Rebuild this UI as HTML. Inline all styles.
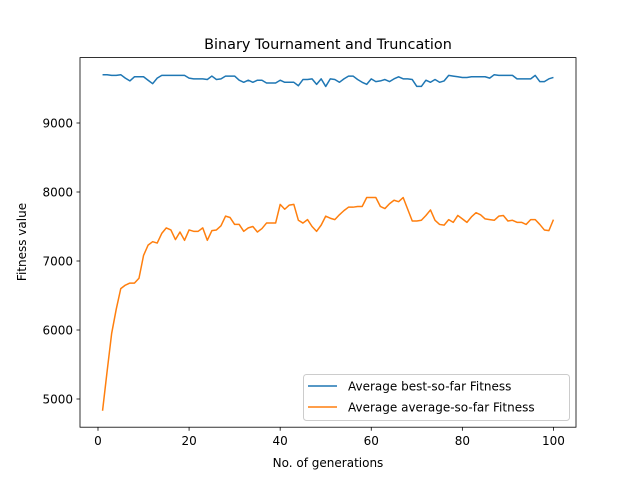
<!DOCTYPE html>
<html><head><meta charset="utf-8"><style>
body{margin:0;background:#fff}
svg{display:block;font-family:"DejaVu Sans","Liberation Sans",sans-serif}
</style></head><body>
<svg id="chart" width="640" height="480">
<rect width="640" height="480" fill="#fff"/>
<text x="328" y="49" font-size="14.4" text-anchor="middle">Binary Tournament and Truncation</text>
<text x="328" y="467" font-size="12" text-anchor="middle">No. of generations</text>
<text transform="translate(26,242) rotate(-90)" font-size="12" text-anchor="middle">Fitness value</text>
<g id="ticks"></g>
<g id="series"></g>
<rect x="80" y="57.6" width="496" height="369.6" fill="none" stroke="#000" stroke-width="0.8"/>
<g>
<rect x="303.5" y="374.5" width="266" height="46" rx="3" fill="#fff" fill-opacity="0.8" stroke="#ccc"/>
<line x1="308" y1="386" x2="337" y2="386" stroke="#1f77b4" stroke-width="1.5"/>
<text x="348" y="390.5" font-size="12">Average best-so-far Fitness</text>
<line x1="308" y1="407" x2="337" y2="407" stroke="#ff7f0e" stroke-width="1.5"/>
<text x="348" y="411.5" font-size="12">Average average-so-far Fitness</text>
</g>
</svg>
<script>
const xTicks=[0,20,40,60,80,100];
const yTicks=[5000,6000,7000,8000,9000];
const bestValues=[9700,9700,9690,9690,9700,9650,9610,9670,9670,9670,9620,9570,9650,9690,9690,9690,9690,9690,9690,9650,9640,9640,9640,9630,9680,9630,9640,9680,9680,9680,9620,9590,9620,9590,9620,9620,9580,9580,9580,9620,9590,9590,9590,9540,9630,9630,9640,9560,9640,9530,9640,9630,9590,9640,9680,9680,9630,9590,9560,9640,9600,9610,9630,9600,9640,9670,9640,9640,9630,9530,9530,9620,9590,9630,9590,9610,9690,9680,9670,9660,9660,9670,9670,9670,9670,9650,9700,9690,9690,9690,9690,9640,9640,9640,9640,9690,9600,9600,9640,9660];
const avgValues=[4830,5400,5950,6300,6600,6650,6680,6680,6750,7080,7230,7280,7260,7400,7480,7450,7310,7420,7300,7450,7430,7430,7480,7300,7440,7450,7510,7650,7630,7530,7530,7430,7480,7500,7420,7470,7550,7550,7550,7820,7750,7810,7820,7590,7550,7600,7500,7430,7520,7650,7620,7600,7670,7730,7780,7780,7790,7790,7920,7920,7920,7790,7760,7830,7880,7860,7920,7750,7580,7580,7590,7660,7740,7590,7530,7520,7600,7560,7660,7610,7560,7640,7700,7670,7610,7600,7590,7650,7660,7580,7590,7560,7560,7530,7600,7600,7530,7450,7440,7600];
const X=v=>80+(v+3.95)*496/108.9;
const Y=v=>123+(9000-v)*0.069;
const NS="http://www.w3.org/2000/svg";
const tg=document.getElementById('ticks');
function mk(tag,attrs,parent){const e=document.createElementNS(NS,tag);for(const k in attrs)e.setAttribute(k,attrs[k]);parent.appendChild(e);return e;}
xTicks.forEach(t=>{
  const l=mk('line',{x1:X(t),x2:X(t),y1:427.2,y2:430.7,stroke:'#000','stroke-width':0.8},tg);
  
  
  const s=mk('text',{x:X(t),y:445,'font-size':12,'text-anchor':'middle'},tg);
  s.textContent=t;
  
  
});
yTicks.forEach(t=>{
  const l=mk('line',{x1:76.5,x2:80,y1:Y(t),y2:Y(t),stroke:'#000','stroke-width':0.8},tg);
  
  
  const s=mk('text',{x:73,y:Y(t)+4.5,'font-size':12,'text-anchor':'end'},tg);
  s.textContent=t;
  
  
});
const sg=document.getElementById('series');
function line(vals,color,name){
  const p=mk('polyline',{points:vals.map((v,i)=>X(i+1).toFixed(2)+','+Y(v).toFixed(2)).join(' '),fill:'none',stroke:color,'stroke-width':1.5,'stroke-linejoin':'round'},sg);
  
  
}
line(bestValues,'#1f77b4','best-so-far-line');
line(avgValues,'#ff7f0e','average-so-far-line');
</script>
</body></html>
